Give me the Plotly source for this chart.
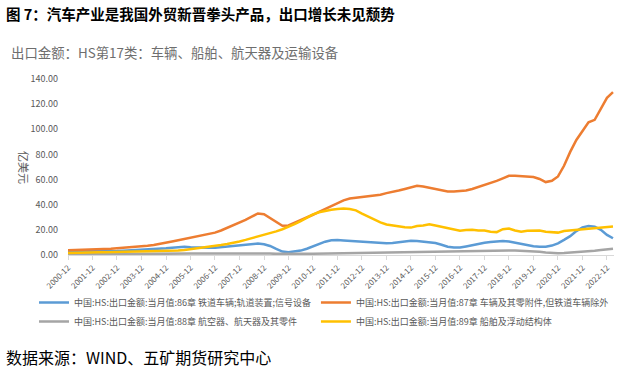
import pandas as pd
import plotly.graph_objects as go

# ---------------- data (quarterly readings, 亿美元) ----------------
dates = pd.date_range("2000-12-01", "2023-03-01", freq="3MS")
tick_years = list(range(2000, 2023))
tick_vals = [f"{y}-12-01" for y in tick_years]
tick_text = [f"{y}-12" for y in tick_years]

rail = [2.7,
        2.7, 2.7, 2.7, 2.8,
        2.9, 3.0, 3.1, 3.2,
        3.4, 3.6, 3.8, 4.0,
        4.3, 4.6, 4.9, 5.3,
        5.8, 6.4, 6.6, 6.1,
        5.8, 5.6, 5.7, 5.8,
        6.3, 6.9, 7.5, 8.0,
        8.5, 8.9, 9.1, 8.6,
        7.2, 4.8, 2.7, 2.2,
        2.6, 3.5, 5.0, 6.8,
        8.8, 10.6, 11.8, 12.0,
        11.6, 11.2, 10.8, 10.6,
        10.3, 10.1, 9.6, 9.3,
        9.5, 10.1, 10.9, 11.3,
        11.1, 10.6, 10.2, 9.5,
        8.2, 6.6, 6.0, 5.9,
        6.8, 8.0, 9.0, 9.8,
        10.3, 11.0, 11.2, 10.7,
        9.8, 8.5, 7.5, 7.0,
        6.6, 6.6, 7.5, 9.3,
        12.0, 15.0, 19.0, 22.0,
        23.0, 22.5, 20.0, 16.0,
        13.3]

vehicles = [3.8,
            3.9, 4.0, 4.1, 4.3,
            4.5, 4.7, 5.0, 5.3,
            5.6, 6.0, 6.3, 6.7,
            7.3, 8.0, 8.8, 9.8,
            10.8, 11.8, 12.8, 13.9,
            15.0, 16.0, 17.0, 17.8,
            19.5, 21.5, 23.5, 25.5,
            28.0, 30.5, 33.0, 32.5,
            29.5, 26.0, 23.3, 23.5,
            25.5, 28.0, 30.0, 32.0,
            34.3, 36.5, 38.5, 41.0,
            43.5, 45.0, 45.5, 46.0,
            46.5, 47.0, 48.0, 49.2,
            50.0, 51.3, 52.5, 53.5,
            55.0, 54.5, 53.5, 52.3,
            51.0, 50.5, 50.5, 50.7,
            51.3, 52.5, 54.0, 55.5,
            57.0, 59.0, 61.0, 63.0,
            63.0, 62.5, 62.5, 62.0,
            60.5, 58.0, 59.0, 62.5,
            71.0, 82.0, 91.5, 98.5,
            105.5, 107.5, 116.0, 125.0,
            129.5]

aircraft = [0.6,
            0.6, 0.6, 0.6, 0.7,
            0.7, 0.7, 0.7, 0.8,
            0.8, 0.8, 0.8, 0.9,
            0.9, 0.9, 1.0, 1.0,
            1.0, 1.1, 1.1, 1.1,
            1.2, 1.2, 1.2, 1.3,
            1.3, 1.4, 1.4, 1.5,
            1.5, 1.5, 1.4, 1.3,
            1.1, 0.9, 0.8, 0.8,
            0.8, 0.9, 0.9, 1.0,
            1.1, 1.2, 1.3, 1.4,
            1.5, 1.6, 1.7, 1.8,
            1.9, 2.0, 2.1, 2.2,
            2.3, 2.4, 2.5, 2.6,
            2.7, 2.8, 2.8, 2.9,
            3.0, 3.0, 3.1, 3.1,
            3.2, 3.3, 3.4, 3.4,
            3.5, 3.5, 3.6, 3.6,
            3.5, 3.4, 3.2, 3.0,
            2.6, 2.0, 1.6, 1.4,
            1.5, 1.8, 2.1, 2.4,
            2.8, 3.3, 3.9, 4.6,
            5.0]

ships = [1.5,
         1.7, 1.9, 2.0, 2.1,
         2.1, 2.1, 2.2, 2.2,
         2.2, 2.3, 2.3, 2.4,
         2.5, 2.6, 2.7, 2.8,
         3.1, 3.5, 4.0, 4.6,
         5.2, 5.9, 6.6, 7.3,
         8.0, 8.8, 9.6, 10.8,
         12.0, 13.3, 14.6, 16.0,
         17.4, 18.8, 20.5, 22.3,
         24.5, 27.0, 30.0, 32.3,
         34.0, 35.2, 36.0, 36.5,
         37.0, 36.5, 35.5, 33.0,
         30.5, 28.0, 26.0, 24.3,
         23.5, 22.5, 22.0, 21.8,
         23.0, 23.5, 24.5, 23.5,
         22.5, 21.0, 20.0, 19.3,
         19.8, 20.0, 19.5, 19.4,
         18.5, 18.2, 20.5, 21.0,
         19.5, 18.5, 19.2, 19.5,
         19.5, 18.5, 18.3, 17.8,
         19.0, 19.5, 20.0, 20.7,
         21.0, 21.3, 21.8, 22.3,
         22.6]

series_names = [
    "中国:HS:出口金额:当月值:86章 铁道车辆;轨道装置;信号设备",
    "中国:HS:出口金额:当月值:87章 车辆及其零附件,但铁道车辆除外",
    "中国:HS:出口金额:当月值:88章 航空器、航天器及其零件",
    "中国:HS:出口金额:当月值:89章 船舶及浮动结构体",
]
series_values = [rail, vehicles, aircraft, ships]
series_colors = ["#5B9BD5", "#ED7D31", "#A5A5A5", "#FFC000"]
# legend column of each series (left column: 86/88, right column: 87/89)
legend_columns = ["left", "right", "left", "right"]

title_text = "<b>图 7：汽车产业是我国外贸新晋拳头产品，出口增长未见颓势</b>"
subtitle_text = "出口金额：HS第17类：车辆、船舶、航天器及运输设备"
y_title = "亿美元"
source_text = "数据来源：WIND、五矿期货研究中心"

# ---------------- layout geometry ----------------
W_FIG, H_FIG = 623, 374
L, R, T, B = 68, 9, 79, 119
PW = W_FIG - L - R
PH = H_FIG - T - B


def px_x(px):
    return (px - L) / PW


def px_y(py):
    return (T + PH - py) / PH


FONT = "Noto Sans CJK SC, Noto Sans, sans-serif"
GRAY = "#595959"

fig = go.Figure()
for name, vals, color, col in zip(series_names, series_values,
                                  series_colors, legend_columns):
    fig.add_trace(go.Scatter(
        x=dates, y=vals, name=name, mode="lines",
        legendgroup=col,
        line=dict(color=color, width=2.5),
    ))

fig.update_layout(
    width=W_FIG, height=H_FIG,
    margin=dict(l=L, r=R, t=T, b=B, autoexpand=False),
    paper_bgcolor="white", plot_bgcolor="white",
    font=dict(family=FONT, color=GRAY),
    showlegend=True,
    legend=dict(
        orientation="h",
        x=px_x(34), xanchor="left",
        y=px_y(288), yanchor="top",
        font=dict(size=9, color=GRAY, family=FONT),
        itemwidth=30,
        bgcolor="rgba(0,0,0,0)",
        traceorder="grouped",
    ),
    xaxis=dict(
        type="date",
        range=["2000-12-01", "2023-03-16"],
        tickmode="array", tickvals=tick_vals, ticktext=tick_text,
        tickangle=-45,
        tickfont=dict(size=8, color=GRAY),
        showgrid=False, zeroline=False,
        showline=True, linecolor="#D9D9D9", linewidth=1,
        ticks="outside", ticklen=4, tickcolor="#D9D9D9",
    ),
    yaxis=dict(
        range=[0, 140], dtick=20, tick0=0,
        tickformat=".2f",
        tickfont=dict(size=9, color=GRAY),
        showgrid=False, zeroline=False, showline=False,
        ticks="", ticklabelstandoff=9,
    ),
    annotations=[
        dict(text=title_text, xref="paper", yref="paper",
             x=px_x(4), y=px_y(14), xanchor="left", yanchor="middle",
             showarrow=False, font=dict(size=14.5, color="black", family=FONT)),
        dict(text=subtitle_text, xref="paper", yref="paper",
             x=px_x(9), y=px_y(52), xanchor="left", yanchor="middle",
             showarrow=False, font=dict(size=13.4, color="#6E6E6E", family=FONT)),
        dict(text=y_title, xref="paper", yref="paper",
             x=px_x(24), y=px_y(167), xanchor="center", yanchor="middle",
             textangle=90, showarrow=False,
             font=dict(size=11, color=GRAY, family=FONT)),
        dict(text=source_text, xref="paper", yref="paper",
             x=px_x(4), y=px_y(357), xanchor="left", yanchor="middle",
             showarrow=False, font=dict(size=16, color="black", family=FONT)),
    ],
)

# the page's default 8px body margin would shift the figure; remove it
fig.write_html("out.html",
               config={"displayModeBar": False},
               post_script="document.body.style.margin='0';document.body.style.overflow='hidden';")
